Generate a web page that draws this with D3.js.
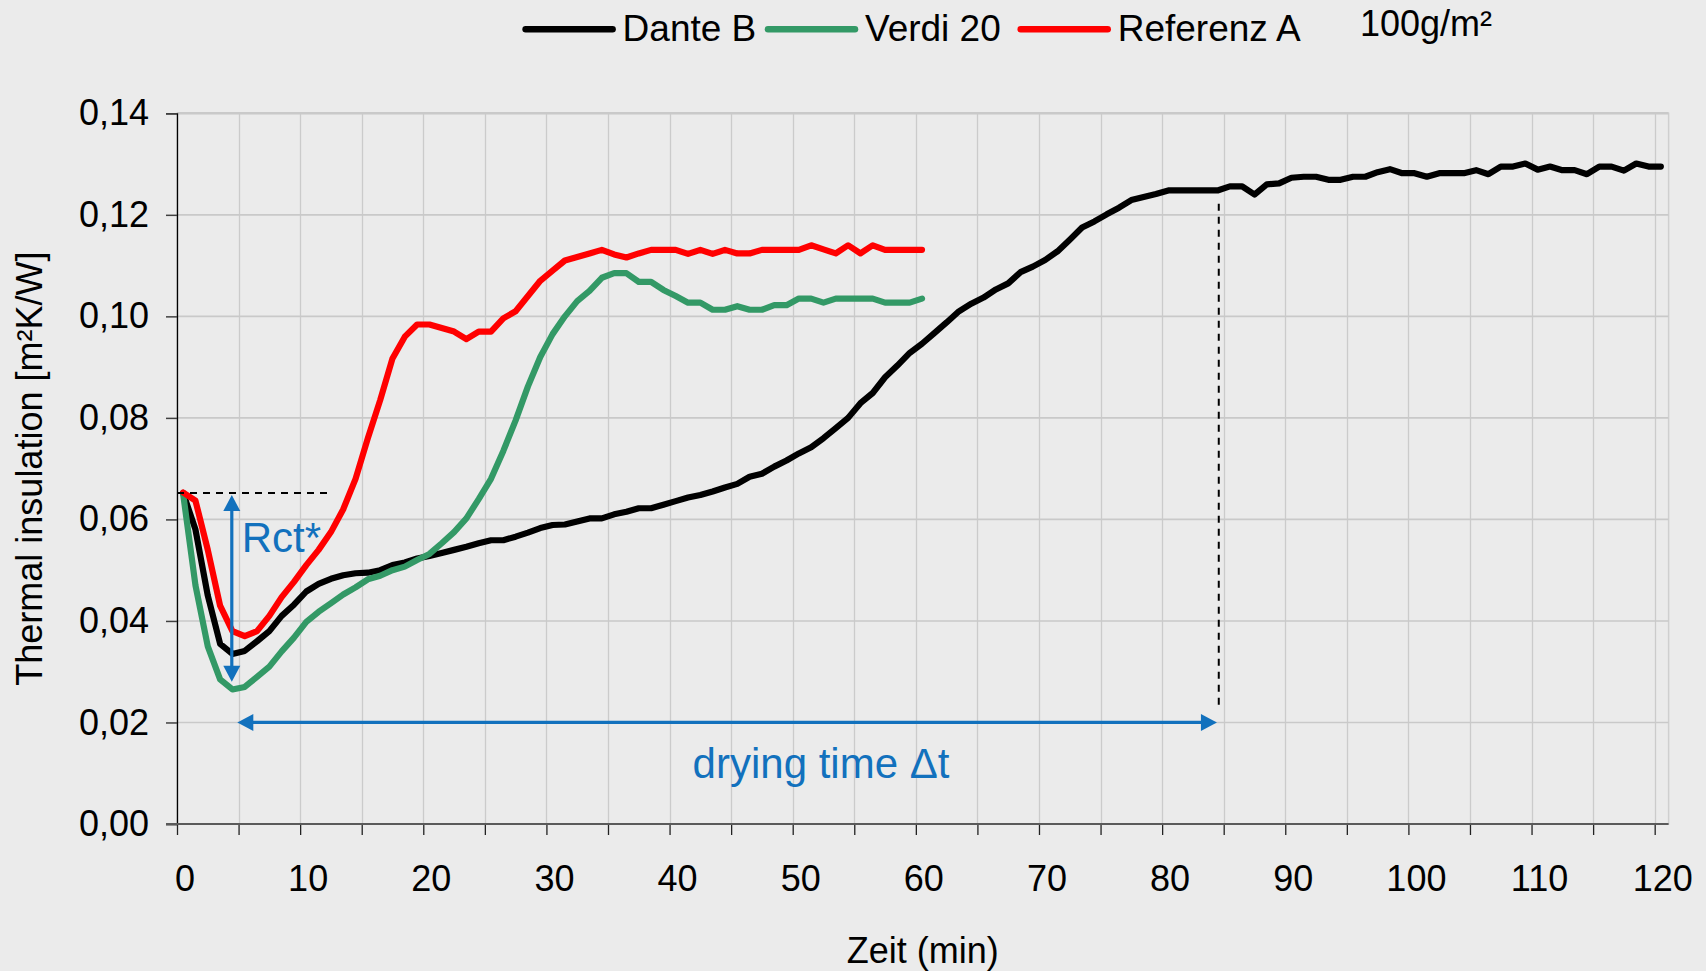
<!DOCTYPE html>
<html><head><meta charset="utf-8">
<script src="https://cdn.jsdelivr.net/npm/d3@7"></script>
<style>
html,body{margin:0;padding:0;background:#ebebeb;}
svg{display:block;font-family:"Liberation Sans",Arial,sans-serif;}
</style>
</head><body>
<svg id="chart" width="1706" height="971"></svg>
<script>
// ---------------- data ----------------
const minutesDante = [0.5,1.5,2.5,3.5,4.5,5.5,6.5,7.5,8.5,9.5,10.5,11.5,12.5,13.5,14.5,15.5,16.5,17.5,18.5,19.5,
  20.5,21.5,22.5,23.5,24.5,25.5,26.5,27.5,28.5,29.5,30.5,31.5,32.5,33.5,34.5,35.5,36.5,37.5,38.5,39.5,
  40.5,41.5,42.5,43.5,44.5,45.5,46.5,47.5,48.5,49.5,50.5,51.5,52.5,53.5,54.5,55.5,56.5,57.5,58.5,59.5,
  60.5,61.5,62.5,63.5,64.5,65.5,66.5,67.5,68.5,69.5,70.5,71.5,72.5,73.5,74.5,75.5,76.5,77.5,78.5,79.5,
  80.5,81.5,82.5,83.5,84.5,85.5,86.5,87.5,88.5,89.5,90.5,91.5,92.5,93.5,94.5,95.5,96.5,97.5,98.5,99.5,
  100.5,101.5,102.5,103.5,104.5,105.5,106.5,107.5,108.5,109.5,110.5,111.5,112.5,113.5,114.5,115.5,116.5,117.5,118.5,119.5,120.5];
const minutesShort = [0.5,1.5,2.5,3.5,4.5,5.5,6.5,7.5,8.5,9.5,10.5,11.5,12.5,13.5,14.5,15.5,16.5,17.5,18.5,19.5,
  20.5,21.5,22.5,23.5,24.5,25.5,26.5,27.5,28.5,29.5,30.5,31.5,32.5,33.5,34.5,35.5,36.5,37.5,38.5,39.5,
  40.5,41.5,42.5,43.5,44.5,45.5,46.5,47.5,48.5,49.5,50.5,51.5,52.5,53.5,54.5,55.5,56.5,57.5,58.5,59.5,60.5];

const danteB = [0.0652,0.058,0.045,0.0355,0.0335,0.0341,0.036,0.038,0.041,0.0432,
  0.0458,0.0473,0.0483,0.049,0.0494,0.0495,0.05,0.051,0.0515,0.0523,
  0.0528,0.0534,0.054,0.0546,0.0553,0.0559,0.0559,0.0566,0.0574,0.0583,
  0.0589,0.059,0.0596,0.0602,0.0602,0.061,0.0615,0.0622,0.0622,0.0629,
  0.0636,0.0643,0.0648,0.0655,0.0663,0.067,0.0684,0.069,0.0704,0.0716,
  0.073,0.0742,0.076,0.078,0.08,0.0829,0.0849,0.088,0.0903,0.0928,
  0.0946,0.0967,0.0988,0.101,0.1025,0.1037,0.1053,0.1065,0.1087,0.1098,
  0.1111,0.1128,0.1151,0.1175,0.1187,0.1201,0.1214,0.1229,0.1235,0.1241,
  0.1248,0.1248,0.1248,0.1248,0.1248,0.1256,0.1256,0.124,0.126,0.1262,
  0.1273,0.1275,0.1275,0.1269,0.1269,0.1275,0.1275,0.1284,0.129,0.1282,
  0.1282,0.1275,0.1282,0.1282,0.1282,0.1288,0.128,0.1295,0.1295,0.1301,
  0.1289,0.1295,0.1288,0.1288,0.128,0.1295,0.1295,0.1287,0.1301,0.1295,0.1295];

const verdi20 = [0.065,0.047,0.035,0.0285,0.0265,0.027,0.029,0.031,0.034,0.0367,
  0.0398,0.0418,0.0435,0.0452,0.0466,0.0482,0.0489,0.05,0.0507,0.052,
  0.0532,0.0553,0.0575,0.0602,0.064,0.068,0.0735,0.0795,0.0862,0.092,
  0.0965,0.1,0.103,0.105,0.1076,0.1085,0.1085,0.1068,0.1068,0.1052,
  0.104,0.1027,0.1027,0.1013,0.1013,0.102,0.1013,0.1013,0.1022,0.1022,
  0.1035,0.1035,0.1027,0.1035,0.1035,0.1035,0.1035,0.1027,0.1027,0.1027,0.1035];

const referenzA = [0.0653,0.0637,0.054,0.043,0.038,0.037,0.038,0.041,0.0447,0.0477,
  0.051,0.054,0.0575,0.062,0.068,0.076,0.0835,0.0917,0.096,0.0984,
  0.0984,0.0977,0.097,0.0955,0.097,0.097,0.0996,0.101,0.104,0.107,
  0.109,0.111,0.1117,0.1124,0.1131,0.1122,0.1116,0.1124,0.1131,0.1131,
  0.1131,0.1123,0.1131,0.1123,0.1131,0.1124,0.1124,0.1131,0.1131,0.1131,
  0.1131,0.114,0.1132,0.1124,0.114,0.1124,0.114,0.1131,0.1131,0.1131,0.1131];

const seriesNames = ["Dante B", "Verdi 20", "Referenz A"];
const seriesColors = ["#000000", "#339966", "#ff0000"];
const xTickLabels = [0,10,20,30,40,50,60,70,80,90,100,110,120];
const xMinorTicks = [0,5,10,15,20,25,30,35,40,45,50,55,60,65,70,75,80,85,90,95,100,105,110,115,120];
const yTickValues = [0,0.02,0.04,0.06,0.08,0.10,0.12,0.14];
const legendNote = "100g/m²";
const yTitle = "Thermal insulation [m²K/W]";
const xTitle = "Zeit (min)";

// annotation anchors (data units)
const rctLevel = 0.0652, rctDashEnd = 12.2;
const rctArrowX = 4.45, rctArrowTop = 0.0648, rctArrowBottom = 0.028;
const dryStart = 4.9, dryEnd = 84.45, dryLevel = 0.02;
const dryMarkX = 84.6, dryMarkTop = 0.1222, dryMarkBottom = 0.023;

// ---------------- drawing ----------------
const svg = d3.select("#chart");
const W = 1706, H = 971;
svg.append("rect").attr("width", W).attr("height", H).attr("fill", "#ebebeb");

const pL = 177, pR = 1668.6, pT = 113.3, pB = 824;
const x = d3.scaleLinear().domain([0, 121.13]).range([pL, pR]);
const y = d3.scaleLinear().domain([0, 0.14]).range([pB, pT]);
const blue = "#1271bd";
const font = '"Liberation Sans", Arial, sans-serif';

// plot area
svg.append("rect").attr("x", pL).attr("y", pT).attr("width", pR - pL).attr("height", pB - pT)
  .attr("fill", "#ebebeb").attr("stroke", "#cfcfcf").attr("stroke-width", 1.5);

// vertical grid
svg.append("g").selectAll("line").data(xMinorTicks.filter(d => d > 0)).join("line")
  .attr("x1", d => Math.round(x(d)) + 0.5).attr("x2", d => Math.round(x(d)) + 0.5)
  .attr("y1", pT).attr("y2", pB).attr("stroke", "#cbcbcb").attr("stroke-width", 1.3);
// horizontal grid
svg.append("g").selectAll("line").data(yTickValues.filter(d => d > 0)).join("line")
  .attr("x1", pL).attr("x2", pR)
  .attr("y1", d => y(d)).attr("y2", d => y(d))
  .attr("stroke", "#c9c9c9").attr("stroke-width", d => d === 0.14 ? 2.5 : 1.6);

// y axis
const yAxis = d3.axisLeft(y).tickValues(yTickValues).tickSize(11).tickPadding(17)
  .tickFormat(d => d3.format(".2f")(d).replace(".", ","));
const gy = svg.append("g").attr("transform", `translate(${pL},0)`).call(yAxis);
gy.select(".domain").attr("stroke", "#000").attr("stroke-width", 1.3);
gy.selectAll(".tick line").attr("stroke", "#404040").attr("stroke-width", 1.5);
gy.selectAll(".tick text").attr("font-size", 36).attr("font-family", font).attr("fill", "#000")
  .attr("dy", "0.32em");

// x axis
const xAxis = d3.axisBottom(x).tickValues(xMinorTicks).tickSize(11).tickFormat("");
const gx = svg.append("g").attr("transform", `translate(0,${pB})`).call(xAxis);
gx.select(".domain").remove();
gx.selectAll(".tick line").attr("stroke", "#222").attr("stroke-width", 1.3);
svg.append("line").attr("x1", pL - 11).attr("x2", pR).attr("y1", pB).attr("y2", pB)
  .attr("stroke", "#5a5a5a").attr("stroke-width", 2.2);
svg.append("g").selectAll("text").data(xTickLabels).join("text")
  .attr("x", d => x(d) + 8).attr("y", 891).attr("text-anchor", "middle")
  .attr("font-size", 36).attr("font-family", font).attr("fill", "#000").text(d => d);

// axis titles
svg.append("text").attr("transform", `translate(42,${(pT + pB) / 2}) rotate(-90)`)
  .attr("text-anchor", "middle").attr("font-size", 36).attr("font-family", font).attr("fill", "#000")
  .text(yTitle);
svg.append("text").attr("x", (pL + pR) / 2).attr("y", 963).attr("text-anchor", "middle")
  .attr("font-size", 36).attr("font-family", font).attr("fill", "#000").text(xTitle);

// series
const series = [
  {name: seriesNames[0], color: seriesColors[0], xs: minutesDante, ys: danteB},
  {name: seriesNames[1], color: seriesColors[1], xs: minutesShort, ys: verdi20},
  {name: seriesNames[2], color: seriesColors[2], xs: minutesShort, ys: referenzA}
];
const line = d3.line().x(d => x(d[0])).y(d => y(d[1]));
series.forEach(s => {
  svg.append("path").datum(s.xs.map((t, i) => [t, s.ys[i]]))
    .attr("d", line).attr("fill", "none").attr("stroke", s.color)
    .attr("stroke-width", 6.2).attr("stroke-linejoin", "round").attr("stroke-linecap", "round");
});

// annotations: dashed lines
svg.append("line").attr("x1", x(0)).attr("x2", x(rctDashEnd)).attr("y1", y(rctLevel)).attr("y2", y(rctLevel))
  .attr("stroke", "#000").attr("stroke-width", 2).attr("stroke-dasharray", "7,6");
svg.append("line").attr("x1", x(dryMarkX)).attr("x2", x(dryMarkX)).attr("y1", y(dryMarkTop)).attr("y2", y(dryMarkBottom))
  .attr("stroke", "#000").attr("stroke-width", 2).attr("stroke-dasharray", "7,6");

// Rct* double arrow (vertical)
const ax = x(rctArrowX), aTop = y(rctArrowTop), aBot = y(rctArrowBottom);
const hl = 16, hw = 8.5;
svg.append("line").attr("x1", ax).attr("x2", ax).attr("y1", aTop + hl - 1).attr("y2", aBot - hl + 1)
  .attr("stroke", blue).attr("stroke-width", 3.2);
svg.append("path").attr("d", `M${ax},${aTop} L${ax - hw},${aTop + hl} L${ax + hw},${aTop + hl} Z`).attr("fill", blue);
svg.append("path").attr("d", `M${ax},${aBot} L${ax - hw},${aBot - hl} L${ax + hw},${aBot - hl} Z`).attr("fill", blue);
svg.append("text").attr("x", x(5.25)).attr("y", y(0.0536)).attr("font-size", 42).attr("font-family", font)
  .attr("fill", blue).text("Rct*");

// drying time double arrow (horizontal)
const dy0 = y(dryLevel), dx1 = x(dryStart), dx2 = x(dryEnd);
svg.append("line").attr("x1", dx1 + hl - 1).attr("x2", dx2 - hl + 1).attr("y1", dy0).attr("y2", dy0)
  .attr("stroke", blue).attr("stroke-width", 3.2);
svg.append("path").attr("d", `M${dx1},${dy0} L${dx1 + hl},${dy0 - hw} L${dx1 + hl},${dy0 + hw} Z`).attr("fill", blue);
svg.append("path").attr("d", `M${dx2},${dy0} L${dx2 - hl},${dy0 - hw} L${dx2 - hl},${dy0 + hw} Z`).attr("fill", blue);
svg.append("text").attr("x", x(52.3)).attr("y", y(0.009)).attr("text-anchor", "middle")
  .attr("font-size", 42).attr("font-family", font).attr("fill", blue).text("drying time Δt");

// legend
const legendX = [525.6, 768, 1020.7];
const lg = svg.append("g");
series.forEach((s, i) => {
  lg.append("line").attr("x1", legendX[i]).attr("x2", legendX[i] + 87).attr("y1", 29.3).attr("y2", 29.3)
    .attr("stroke", s.color).attr("stroke-width", 6.5).attr("stroke-linecap", "round");
  lg.append("text").attr("x", legendX[i] + 97).attr("y", 40.5).attr("font-size", 37)
    .attr("font-family", font).attr("fill", "#000").text(s.name);
});
svg.append("text").attr("x", 1360).attr("y", 36).attr("font-size", 36).attr("font-family", font)
  .attr("fill", "#000").text(legendNote);
</script>
</body></html>
